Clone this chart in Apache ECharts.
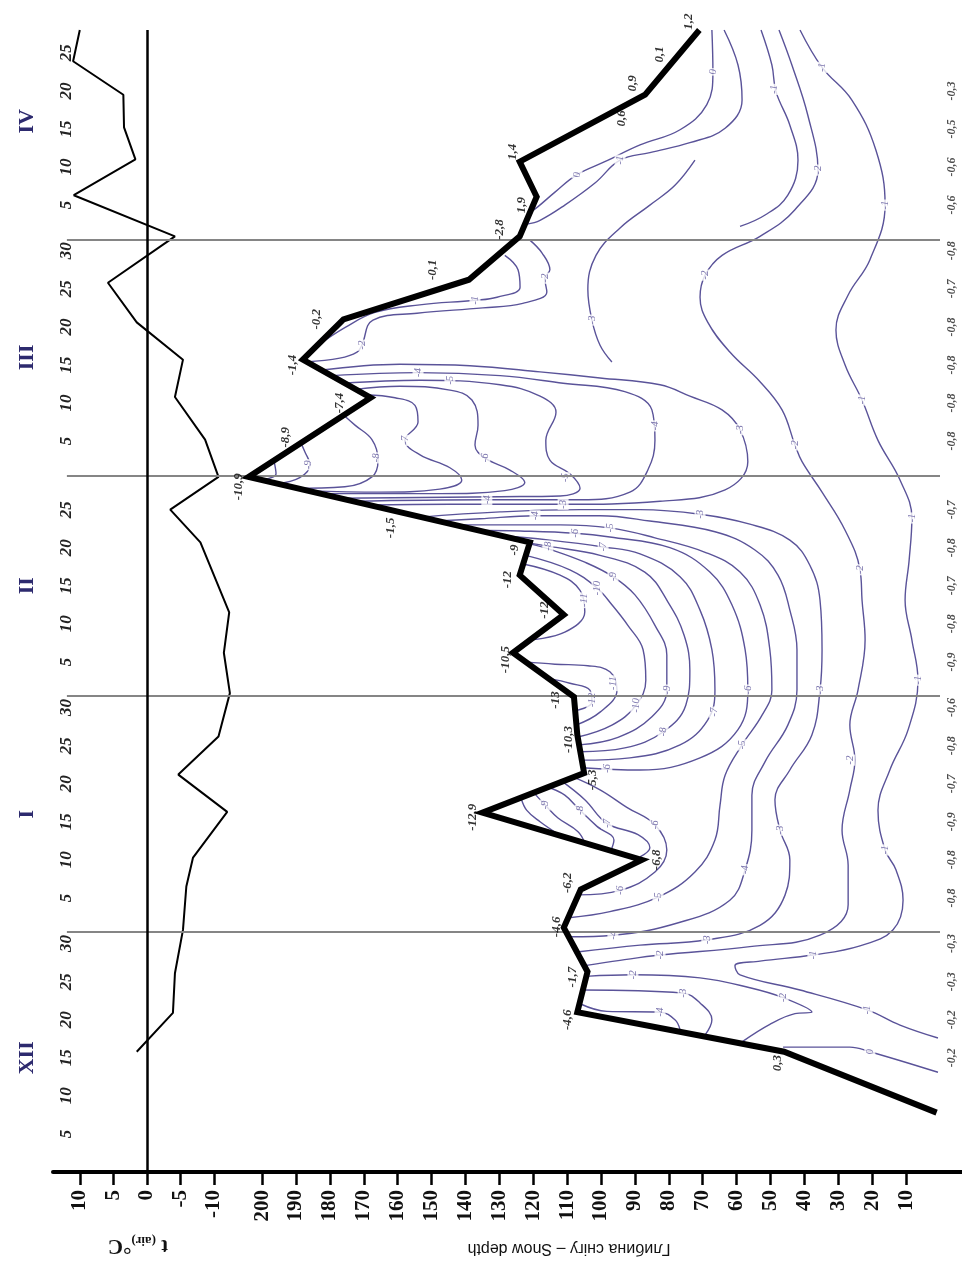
<!DOCTYPE html>
<html>
<head>
<meta charset="utf-8">
<title>Snow depth and snow temperature</title>
<script src="https://cdn.jsdelivr.net/npm/echarts@6.0.0/dist/echarts.min.js"></script>
<style>
  html, body { margin: 0; padding: 0; background: #fff; }
  #chart { width: 962px; height: 1275px; }
</style>
</head>
<body>
<div id="chart"></div>
<script>
// day number counted from 30 Nov: 1 Dec = 1, 1 Jan = 32, 1 Feb = 63, 1 Mar = 92, 1 Apr = 123
const dayTicks = [5, 10, 15, 20, 25, 30, 36, 41, 46, 51, 56, 61, 67, 72, 77, 82, 87,
  96, 101, 106, 111, 116, 121, 127, 132, 137, 142, 147];
const dayTickText = ['5', '10', '15', '20', '25', '30', '5', '10', '15', '20', '25', '30',
  '5', '10', '15', '20', '25', '5', '10', '15', '20', '25', '30', '5', '10', '15', '20', '25'];
const monthDays = [15, 47, 77, 107, 138];
const monthNames = ['XII', 'I', 'II', 'III', 'IV'];
const monthEnds = [31.5, 62.5, 91.5, 122.5];

const depthTicks = [10, 20, 30, 40, 50, 60, 70, 80, 90, 100, 110, 120, 130, 140, 150, 160, 170, 180, 190, 200];
const airTicks = [10, 5, 0, -5, -10];

// air temperature, °C
const airDays = [15.8, 20.9, 26.1, 31.8, 37.5, 41.3, 47.3, 52.2, 57.2, 62.9, 68.2, 73.5, 82.7, 87,
  91.3, 96.2, 101.8, 106.7, 111.6, 116.8, 122.9, 128.3, 133, 137.2, 141.5, 145.9, 150];
const airTemp = [1.5, -3.9, -4.2, -5.4, -5.9, -6.9, -12.0, -4.7, -10.7, -12.4, -11.5, -12.3, -8.0, -3.5,
  -10.7, -8.7, -4.2, -5.4, 1.5, 5.8, -4.2, 10.9, 1.7, 3.4, 3.5, 11.0, 10.0];

// snow depth, cm
const snowDays = [7.8, 15.8, 21, 26.3, 32.1, 37.1, 41, 47.2, 52.4, 57.4, 62.4, 68.2, 73.2, 78.4, 82.7,
  91.3, 101.7, 106.7, 112, 117.2, 122.9, 128.1, 132.7, 141.5, 150];
const snowDepth = [1, 46, 107, 104, 111, 106, 88, 135, 105, 107, 108, 126, 111, 124, 121,
  204, 168, 188, 176, 139, 124, 119, 124, 87, 71];

// snow surface temperature: depth, day, value
const surfaceTemp = [
  [47.8, 14.3, '0,3'], [110, 20, '-4,6'], [108.3, 25.6, '-1,7'], [113, 32.2, '-4,6'],
  [110, 38, '-6,2'], [83.5, 41, '-6,8'], [137.8, 46.6, '-12,9'], [102.4, 51.5, '-5,3'],
  [109.5, 56.8, '-10,3'], [113.5, 62, '-13'], [128.3, 67.3, '-10,5'], [116.5, 73.8, '-12'],
  [127.7, 77.8, '-12'], [125.4, 81.7, '-9'], [162.2, 84.6, '-1,5'], [207, 90, '-10,9'],
  [193, 96.5, '-8,9'], [177, 101, '-7,4'], [191, 106, '-1,4'], [183.8, 112, '-0,2'],
  [149.6, 118.5, '-0,1'], [129.8, 123.8, '-2,8'], [123.3, 127, '1,9'], [126, 134, '1,4'],
  [93.8, 138.4, '0,6'], [90.6, 143, '0,9'], [82.6, 146.8, '0,1'], [74.3, 151.1, '1,2']
];

// soil surface temperature under the snow
const soilDays = [15, 20, 25, 30, 36, 41, 46, 51, 56, 61, 67, 72, 77, 82, 87,
  96, 101, 106, 111, 116, 121, 127, 132, 137, 142];
const soilTemp = ['-0,2', '-0,2', '-0,3', '-0,3', '-0,8', '-0,8', '-0,9', '-0,7', '-0,8', '-0,6',
  '-0,9', '-0,8', '-0,7', '-0,8', '-0,7', '-0,8', '-0,8', '-0,8', '-0,8', '-0,7', '-0,8',
  '-0,6', '-0,6', '-0,5', '-0,3'];

// isotherms in the snow, points as [depth cm, day]
const isoM1Long = [[0.6, 17.6], [11.8, 19.3], [21.5, 21.3], [41.3, 23.9], [59.0, 25.9], [60.5, 27.1], [53.1, 27.7],
  [37.5, 28.5], [23.6, 29.7], [13.9, 31.8], [10.9, 35.7], [13.0, 39.7], [16.2, 42.3], [18.3, 47.5], [14.8, 52.8],
  [9.4, 58.1], [6.5, 64.6], [8.3, 69.9], [10.3, 75.1], [9.1, 80.4], [8.3, 85.9], [11.8, 90.9], [18.3, 96.1],
  [23.0, 101.4], [28.0, 106.0], [30.7, 110.6], [27.1, 115.2], [20.7, 119.8], [16.2, 127.0], [18.9, 134.2],
  [26.0, 140.8], [34.8, 145.1], [41.3, 150.0]];
const isoM2Long = [[104.8, 27.1], [94.4, 27.8], [82.6, 28.5], [56.1, 29.6], [35.4, 31.1], [27.1, 35.1], [27.1, 40.3],
  [28.9, 44.9], [26.6, 50.2], [25.1, 54.1], [26.6, 58.7], [24.2, 63.3], [22.1, 69.9], [23.0, 75.1], [23.6, 79.1],
  [28.0, 84.3], [34.8, 89.3], [40.7, 93.3], [42.8, 95.5], [46.6, 100.1], [53.1, 103.8], [62.0, 107.7],
  [68.5, 111.6], [70.8, 114.9], [69.3, 117.8], [64.3, 120.4], [53.1, 122.9], [42.8, 126.4], [36.0, 131.6],
  [39.0, 138.8], [43.7, 145.4], [47.5, 150.0]];
const iso0Dec = [[46.3, 16.4], [26.6, 16.4], [20.7, 15.8], [0.6, 13.1]];
const isoM2Dec = [[104.5, 25.7], [90.6, 25.9], [70.8, 25.5], [56.1, 24.2], [46.3, 22.9], [37.8, 21.0], [42.8, 20.8],
  [50.2, 19.4], [58.4, 17.1]];
const isoM3Dec = [[105.3, 23.9], [75.8, 23.5], [70.8, 22.2], [67.3, 20.0], [69.3, 18.0]];
const isoM4Dec = [[106.2, 22.1], [98.3, 21.1], [82.6, 21.0], [78.2, 20.0], [76.7, 18.7]];

const isoM3Win = [[107.1, 28.9], [88.5, 29.8], [68.8, 30.5], [53.1, 32.4], [45.7, 36.4], [44.3, 41.0], [47.2, 44.9],
  [48.7, 48.9], [44.3, 52.8], [37.8, 57.4], [35.4, 63.3], [34.8, 68.6], [35.4, 75.1], [38.4, 79.7], [44.3, 83.0],
  [56.1, 85.1], [70.8, 86.4], [88.5, 87.0], [106.2, 87.0], [129.8, 86.7], [154.0, 86.0]];
const isoM4Win = [[109.2, 30.9], [96.5, 31.1], [76.7, 32.8], [62.0, 35.7], [57.5, 39.7], [55.5, 44.9], [55.5, 49.5],
  [51.6, 53.9], [44.9, 58.7], [42.2, 63.3], [42.2, 68.6], [44.3, 73.8], [47.8, 78.4], [54.6, 81.7], [66.4, 84.1],
  [85.6, 85.5], [100.3, 86.2], [119.5, 86.2], [135.7, 85.8], [148.4, 85.5]];
const isoM5Win = [[109.5, 33.4], [97.4, 34.2], [83.2, 36.1], [72.3, 39.4], [66.4, 43.6], [64.9, 48.2], [63.4, 52.1],
  [58.4, 56.1], [52.5, 60.0], [49.6, 63.3], [50.2, 68.6], [53.1, 74.5], [59.0, 78.8], [69.3, 81.4], [84.1, 83.3],
  [97.4, 84.6], [112.1, 85.0], [129.8, 85.0], [143.1, 85.0]];
const isoM6Jan = [[106.8, 36.4], [94.4, 37.0], [84.1, 39.4], [80.6, 42.3], [84.1, 45.6], [92.4, 47.9], [100.3, 50.2], [108.3, 51.9]];
const isoM7Jan = [[88.5, 41.4], [85.6, 42.6], [89.1, 44.3], [98.3, 45.8], [104.8, 48.9], [111.8, 51.4]];
const isoM8Jan = [[97.1, 42.2], [96.2, 43.6], [101.2, 45.4], [106.2, 47.5], [110.7, 49.5], [116.0, 50.6]];
const isoM9Jan = [[104.8, 43.2], [106.8, 44.7], [112.7, 46.5], [116.5, 48.2], [119.8, 49.8]];
const isoM10Jan = [[112.4, 44.3], [118.0, 46.0], [121.9, 47.5], [123.6, 49.1]];
const isoM6Feb = [[105.6, 53.1], [88.5, 52.8], [70.8, 54.4], [59.6, 58.1], [56.7, 63.3], [57.5, 68.6], [61.4, 74.5],
  [67.9, 78.8], [79.7, 82.0], [97.4, 83.4], [107.7, 83.9], [123.9, 84.2], [137.5, 84.3]];
const isoM7Feb = [[105.9, 54.1], [91.5, 54.4], [76.7, 56.1], [68.5, 59.4], [66.4, 63.3], [67.3, 68.6], [70.8, 73.8],
  [76.7, 78.2], [88.5, 81.2], [99.4, 82.1], [115.1, 83.0], [131.9, 83.7]];
const isoM8Feb = [[106.2, 55.2], [93.0, 55.7], [81.7, 57.8], [75.0, 61.3], [73.8, 65.9], [75.5, 70.5], [80.3, 74.9],
  [87.1, 78.8], [100.3, 81.0], [115.7, 82.2], [126.6, 83.0]];
const isoM9Feb = [[106.5, 56.1], [95.0, 57.1], [85.0, 59.8], [80.6, 63.3], [80.6, 67.9], [84.1, 71.8], [90.0, 75.8],
  [96.5, 78.2], [104.8, 80.1], [114.5, 81.7], [121.0, 82.5]];
const isoM10Feb = [[107.1, 57.1], [96.8, 58.7], [89.7, 61.3], [86.8, 64.6], [87.6, 68.6], [92.1, 71.8], [96.8, 74.5],
  [101.2, 76.7], [109.2, 79.1], [122.2, 81.0]];
const isoM11Feb = [[107.4, 58.7], [100.3, 60.4], [95.3, 63.3], [97.4, 65.7], [103.9, 66.5], [113.6, 66.7], [122.5, 67.0]];
const isoM12Feb = [[107.4, 60.6], [102.7, 61.7], [103.3, 63.3], [109.2, 64.2], [115.1, 64.8]];
const isoM11Feb2 = [[121.0, 69.9], [110.7, 70.9], [104.8, 73.6], [106.2, 76.4], [112.1, 78.4], [123.3, 79.9]];

const isoM10Mar = [[200.1, 90.9], [195.9, 91.7], [196.5, 93.4]];
const isoM9Mar = [[195.6, 90.4], [188.9, 91.2], [185.9, 92.9], [187.4, 94.6], [188.6, 95.8]];
const isoM8Mar = [[190.9, 89.8], [175.6, 90.0], [167.6, 91.3], [165.8, 93.5], [167.6, 96.2], [172.6, 98.1], [175.9, 99.4]];
const isoM7Mar = [[186.8, 89.5], [165.3, 89.3], [147.6, 89.7], [141.1, 90.9], [144.6, 92.5], [153.4, 94.2], [157.9, 96.1],
  [154.0, 98.5], [154.9, 100.7], [160.8, 101.7], [169.4, 102.1]];
const isoM6Mar = [[182.4, 89.1], [147.6, 89.1], [128.4, 89.5], [122.5, 90.6], [126.9, 92.2], [134.3, 93.8], [137.2, 95.5],
  [136.3, 98.1], [138.1, 101.4], [144.6, 102.7], [159.4, 103.2], [172.6, 102.8]];
const isoM5Mar = [[177.6, 88.5], [129.8, 88.7], [112.1, 88.8], [106.2, 89.8], [109.2, 91.7], [115.1, 93.5], [116.3, 96.1],
  [113.3, 99.8], [118.0, 101.9], [129.8, 103.4], [153.4, 104.0], [176.2, 103.6]];
const isoM4Mar = [[173.5, 88.1], [133.7, 88.3], [106.2, 88.3], [91.5, 89.3], [86.2, 92.2], [84.1, 96.1], [85.0, 100.1],
  [93.0, 102.5], [111.2, 103.6], [129.8, 104.6], [154.0, 105.0], [179.4, 104.6]];
const isoM3Mar = [[168.8, 87.6], [144.6, 87.7], [111.2, 87.7], [82.6, 88.1], [63.4, 89.6], [56.7, 93.3], [59.0, 97.5],
  [64.3, 100.1], [73.8, 101.9], [82.6, 103.4], [100.3, 104.3], [118.0, 105.1], [138.7, 105.9], [159.4, 106.1], [183.0, 105.3]];
const isoM3Apr = [[96.8, 106.4], [100.3, 108.6], [102.7, 111.9], [103.9, 115.9], [101.5, 120.4], [94.4, 124.0],
  [85.6, 127.0], [78.2, 129.6], [72.3, 132.9]];
const isoM2Mar = [[187.1, 106.4], [177.1, 106.9], [172.0, 107.7], [170.6, 108.6], [167.3, 111.9], [154.3, 112.8],
  [134.9, 113.5], [123.1, 114.1], [116.0, 115.6], [116.6, 117.4], [115.1, 118.5], [117.4, 120.7], [121.0, 122.4]];
const isoM1Mar = [[128.4, 120.4], [124.5, 118.5], [123.9, 116.2], [130.7, 114.9], [137.2, 114.5], [153.5, 113.9],
  [166.7, 112.9], [175.6, 110.9], [183.5, 108.6]];
const iso0Apr = [[67.3, 150.0], [67.0, 144.5], [68.8, 140.2], [76.7, 136.9], [88.5, 134.9], [98.9, 132.7],
  [107.1, 131.0], [113.6, 128.7], [118.6, 126.8], [121.0, 126.0]];
const isoM1Apr = [[63.7, 150.0], [59.6, 145.4], [58.4, 140.8], [63.4, 137.1], [73.8, 135.2], [85.6, 133.9],
  [94.4, 132.9], [101.8, 129.9], [110.7, 127.0], [118.0, 125.0], [121.9, 124.5]];
const isoM1Apr2 = [[52.8, 150.0], [49.6, 145.4], [48.4, 141.9], [44.3, 137.5], [41.9, 132.9], [44.9, 128.3],
  [51.6, 125.7], [59.0, 124.2]];

const isoLines = [isoM1Long, isoM2Long, iso0Dec, isoM2Dec, isoM3Dec, isoM4Dec,
  isoM3Win, isoM4Win, isoM5Win, isoM6Jan, isoM7Jan, isoM8Jan, isoM9Jan, isoM10Jan,
  isoM6Feb, isoM7Feb, isoM8Feb, isoM9Feb, isoM10Feb, isoM11Feb, isoM12Feb, isoM11Feb2,
  isoM10Mar, isoM9Mar, isoM8Mar, isoM7Mar, isoM6Mar, isoM5Mar, isoM4Mar, isoM3Mar, isoM3Apr,
  isoM2Mar, isoM1Mar, iso0Apr, isoM1Apr, isoM1Apr2];

// isotherm labels: depth, day, value
const isoLabels = [
  [21.5, 21.3, '-1'], [37.5, 28.5, '-1'], [16.2, 42.3, '-1'], [6.5, 64.6, '-1'], [8.3, 85.9, '-1'],
  [23.0, 101.4, '-1'], [16.2, 127.0, '-1'], [34.8, 145.1, '-1'],
  [82.6, 28.5, '-2'], [26.6, 54.1, '-2'], [23.6, 79.1, '-2'], [42.8, 95.5, '-2'], [69.3, 117.8, '-2'], [36.0, 131.6, '-2'],
  [90.6, 25.9, '-2'], [46.3, 22.9, '-2'], [20.7, 15.8, '0'], [75.8, 23.5, '-3'], [82.6, 21.0, '-4'],
  [68.8, 30.5, '-3'], [47.2, 44.9, '-3'], [35.4, 63.3, '-3'], [70.8, 86.4, '-3'],
  [96.5, 31.1, '-4'], [57.5, 39.7, '-4'], [119.5, 86.2, '-4'],
  [83.2, 36.1, '-5'], [58.4, 56.1, '-5'], [97.4, 84.6, '-5'],
  [94.4, 37.0, '-6'], [84.1, 45.6, '-6'], [98.3, 45.8, '-7'], [106.2, 47.5, '-8'], [116.5, 48.2, '-9'],
  [98.3, 53.0, '-6'], [56.7, 63.3, '-6'], [107.7, 83.9, '-6'],
  [66.7, 60.4, '-7'], [99.4, 82.1, '-7'], [81.7, 57.8, '-8'], [115.7, 82.2, '-8'],
  [80.6, 63.3, '-9'], [96.5, 78.2, '-9'], [89.7, 61.3, '-10'], [101.2, 76.7, '-10'],
  [96.5, 64.2, '-11'], [102.7, 62.0, '-12'], [105.1, 75.1, '-11'],
  [186.5, 92.9, '-9'], [166.4, 93.8, '-8'], [157.9, 96.1, '-7'], [134.3, 93.8, '-6'],
  [144.6, 104.0, '-5'], [110.7, 91.2, '-5'], [133.7, 88.3, '-4'], [154.0, 105.0, '-4'], [84.1, 98.0, '-4'],
  [111.2, 87.7, '-3'], [59.0, 97.5, '-3'], [102.7, 111.9, '-3'],
  [170.6, 108.6, '-2'], [116.6, 117.4, '-2'], [137.2, 114.5, '-1'],
  [67.0, 144.5, '0'], [107.1, 131.0, '0'], [94.4, 132.9, '-1'], [49.0, 142.2, '-1']
];

const serif = '"Liberation Serif", "DejaVu Serif", serif';
const isoColor = '#5a5399';
const dayText = {};
dayTicks.forEach((d, i) => { dayText[d] = dayTickText[i]; });
const monthText = {};
monthDays.forEach((d, i) => { monthText[d] = monthNames[i]; });

const chart = echarts.init(document.getElementById('chart'));

const isoSeries = isoLines.map(pts => ({
  type: 'line',
  xAxisIndex: 0,
  yAxisIndex: 0,
  data: pts,
  symbol: 'none',
  smooth: 0.4,
  silent: true,
  z: 2,
  lineStyle: { color: isoColor, width: 1.4 }
}));

const option = {
  animation: false,
  backgroundColor: '#fff',
  grid: [
    { left: 53, right: 0, top: 30, bottom: 103 },
    { left: 53, width: 187.6, top: 30, bottom: 103 }
  ],
  xAxis: [
    {
      gridIndex: 0,
      type: 'value',
      inverse: true,
      min: -6.49,
      max: 261.7,
      splitLine: { show: false },
      axisLine: { show: true, onZero: false, lineStyle: { color: '#000', width: 4 } },
      axisTick: { show: true, customValues: depthTicks, length: 13, lineStyle: { color: '#000', width: 2.5 } },
      axisLabel: {
        customValues: depthTicks, rotate: 90, margin: 18,
        fontFamily: serif, fontWeight: 'bold', fontSize: 21, color: '#111'
      }
    },
    {
      gridIndex: 1,
      type: 'value',
      inverse: true,
      min: -14,
      max: 14,
      splitLine: { show: false },
      axisLine: { show: false, onZero: false },
      axisTick: { show: true, customValues: airTicks, length: 13, lineStyle: { color: '#000', width: 2.5 } },
      axisLabel: {
        customValues: airTicks, rotate: 90, margin: 18,
        fontFamily: serif, fontWeight: 'bold', fontSize: 21, color: '#111'
      }
    }
  ],
  yAxis: [
    { gridIndex: 0, type: 'value', min: 0, max: 150, show: false },
    {
      gridIndex: 1, type: 'value', min: 0, max: 150, position: 'left',
      axisLine: { show: false }, axisTick: { show: false }, splitLine: { show: false },
      axisLabel: {
        inside: true, rotate: 90, margin: 5, customValues: dayTicks,
        formatter: v => dayText[v] || '',
        fontFamily: serif, fontStyle: 'italic', fontWeight: 'bold', fontSize: 17, color: '#222'
      }
    },
    {
      gridIndex: 1, type: 'value', min: 0, max: 150, position: 'left',
      axisLine: { show: false }, axisTick: { show: false }, splitLine: { show: false },
      axisLabel: {
        rotate: 90, margin: 15, customValues: monthDays,
        formatter: v => monthText[v] || '',
        fontFamily: serif, fontWeight: 'bold', fontSize: 22, color: '#2d2a6e'
      }
    }
  ],
  graphic: [
    {
      type: 'text', x: 569, y: 1248, rotation: Math.PI,
      style: { text: 'Глибина снігу – Snow depth', font: '16px "Liberation Sans", Arial, sans-serif', fill: '#111', align: 'center', verticalAlign: 'middle' }
    },
    {
      type: 'text', x: 138, y: 1245, rotation: Math.PI,
      style: {
        text: '{t|t }{s|(air)}{t|°C}',
        rich: {
          t: { fontFamily: serif, fontWeight: 'bold', fontSize: 21, fill: '#111' },
          s: { fontFamily: serif, fontWeight: 'bold', fontSize: 13, fill: '#111', padding: [10, 0, 0, 0] }
        },
        align: 'center', verticalAlign: 'middle'
      }
    }
  ],
  series: [
    {
      type: 'line', name: 'months', xAxisIndex: 0, yAxisIndex: 0, data: [], silent: true,
      markLine: {
        silent: true, symbol: 'none', label: { show: false },
        lineStyle: { color: '#858585', width: 2, type: 'solid' },
        data: monthEnds.map(t => [{ coord: [257.6, t] }, { coord: [0, t] }])
      }
    },
    ...isoSeries,
    {
      type: 'scatter', name: 'isoLabels', xAxisIndex: 0, yAxisIndex: 0, symbolSize: 0, silent: true, z: 3,
      data: isoLabels,
      label: {
        show: true, position: 'inside', rotate: 90, formatter: p => p.data[2],
        fontFamily: serif, fontStyle: 'italic', fontSize: 11, color: isoColor,
        backgroundColor: '#fff', padding: [0, 1]
      }
    },
    {
      type: 'line', name: 'snow', xAxisIndex: 0, yAxisIndex: 0, symbol: 'none', silent: true, z: 5,
      data: snowDays.map((t, i) => [snowDepth[i], t]),
      lineStyle: { color: '#000', width: 6, join: 'miter' },
      markLine: {
        silent: true, symbol: 'none', label: { show: false },
        lineStyle: { color: '#000', width: 4, type: 'solid' },
        data: [[{ coord: [0, -3.3] }, { coord: [0, 150] }]]
      }
    },
    {
      type: 'scatter', name: 'surface', xAxisIndex: 0, yAxisIndex: 0, symbolSize: 0, silent: true, z: 6, clip: false,
      data: surfaceTemp,
      label: {
        show: true, position: 'inside', rotate: 90, formatter: p => p.data[2],
        fontFamily: serif, fontStyle: 'italic', fontWeight: 'bold', fontSize: 13, color: '#000'
      }
    },
    {
      type: 'scatter', name: 'soil', xAxisIndex: 0, yAxisIndex: 0, symbolSize: 0, silent: true, z: 6, clip: false,
      data: soilDays.map((t, i) => [-3.5, t, soilTemp[i]]),
      label: {
        show: true, position: 'inside', rotate: 90, formatter: p => p.data[2],
        fontFamily: serif, fontStyle: 'italic', fontWeight: 'bold', fontSize: 12, color: '#222'
      }
    },
    {
      type: 'line', name: 'air', xAxisIndex: 1, yAxisIndex: 1, symbol: 'none', silent: true, z: 4,
      data: airDays.map((t, i) => [airTemp[i], t]),
      lineStyle: { color: '#000', width: 2 },
      markLine: {
        silent: true, symbol: 'none', label: { show: false },
        lineStyle: { color: '#000', width: 2.5, type: 'solid' },
        data: [{ xAxis: 0 }]
      }
    }
  ]
};

chart.setOption(option);
</script>
</body>
</html>
